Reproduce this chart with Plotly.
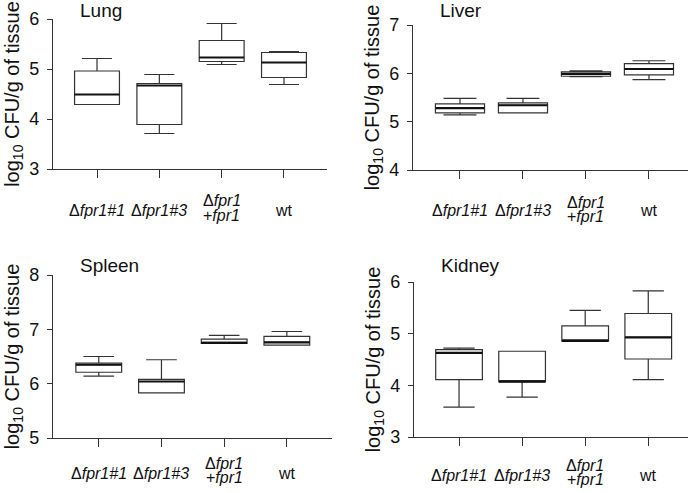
import plotly.graph_objects as go

W, H = 693, 493

# etiquetas de categoria (una lista de lineas por categoria)
categorias = [["Δ<i>fpr1#1</i>"], ["Δ<i>fpr1#3</i>"], ["Δ<i>fpr1</i>", "+<i>fpr1</i>"], ["wt"]]
posiciones = [0, 1, 2, 3]

# valores (log10 CFU/g de tejido)
lung_min = [4.29, 3.71, 5.09, 4.69]
lung_q1 = [4.29, 3.89, 5.15, 4.83]
lung_med = [4.49, 4.67, 5.23, 5.13]
lung_q3 = [4.96, 4.71, 5.57, 5.33]
lung_max = [5.21, 4.89, 5.91, 5.35]

liver_min = [5.14, 5.18, 5.93, 5.87]
liver_q1 = [5.18, 5.18, 5.94, 5.97]
liver_med = [5.28, 5.34, 5.99, 6.09]
liver_q3 = [5.37, 5.39, 6.03, 6.20]
liver_max = [5.48, 5.48, 6.05, 6.26]

spleen_min = [6.14, 5.83, 6.74, 6.71]
spleen_q1 = [6.21, 5.83, 6.74, 6.71]
spleen_med = [6.35, 6.04, 6.75, 6.76]
spleen_q3 = [6.38, 6.08, 6.82, 6.87]
spleen_max = [6.50, 6.44, 6.89, 6.96]

kidney_min = [3.58, 3.77, 4.86, 4.11]
kidney_q1 = [4.11, 4.07, 4.86, 4.51]
kidney_med = [4.63, 4.07, 4.86, 4.93]
kidney_q3 = [4.69, 4.66, 5.15, 5.39]
kidney_max = [4.72, 4.66, 5.45, 5.83]

paneles = [
    # nombre, datos, rango y, caja px (x0, x1, ytop, ybottom), rango x, ancho caja, titulo px, etiquetas px (1 linea, 2 lineas)
    ("Lung", (lung_min, lung_q1, lung_med, lung_q3, lung_max), [3, 6], (53, 327, 19, 169), [-0.706, 3.69], 0.72, (78, 11), (210, (200, 215))),
    ("Liver", (liver_min, liver_q1, liver_med, liver_q3, liver_max), [4, 7], (413, 688, 25, 170), [-0.746, 3.62], 0.78, (438, 10), (210, (202, 217))),
    ("Spleen", (spleen_min, spleen_q1, spleen_med, spleen_q3, spleen_max), [5, 8], (53, 332, 275, 438), [-0.73, 3.72], 0.73, (78, 265), (473, (463, 477))),
    ("Kidney", (kidney_min, kidney_q1, kidney_med, kidney_q3, kidney_max), [3, 6], (414, 688, 282, 437), [-0.714, 3.63], 0.74, (439, 265), (475, (465, 479))),
]

color = "#333333"
negro = "#111111"
fuente = "Liberation Sans, Arial, sans-serif"

fig = go.Figure()
layout = {}
anotaciones = []

for i, (nombre, datos, rango_y, caja, rango_x, ancho, tit, etq) in enumerate(paneles):
    n = "" if i == 0 else str(i + 1)
    mn, q1, med, q3, mx = datos
    fig.add_trace(go.Box(
        x=posiciones, q1=q1, median=med, q3=q3, lowerfence=mn, upperfence=mx,
        width=ancho, whiskerwidth=0.67, fillcolor="white",
        line=dict(color=color, width=1.2), boxpoints=False,
        xaxis="x" + n, yaxis="y" + n, showlegend=False, hoverinfo="skip",
    ))
    # mediana mas gruesa
    fig.add_trace(go.Box(
        x=posiciones, q1=med, median=med, q3=med, lowerfence=med, upperfence=med,
        width=ancho, whiskerwidth=0, fillcolor="rgba(0,0,0,0)",
        line=dict(color=negro, width=2.2), boxpoints=False,
        xaxis="x" + n, yaxis="y" + n, showlegend=False, hoverinfo="skip",
    ))
    x0, x1, yt, yb = caja
    layout["xaxis" + n] = dict(
        domain=[x0 / W, x1 / W], range=rango_x, anchor="y" + n,
        tickmode="array", tickvals=posiciones, showticklabels=False,
        ticks="outside", ticklen=8, tickcolor=color, tickwidth=1.2,
        showline=True, linecolor=color, linewidth=1.2,
        showgrid=False, zeroline=False, automargin=False,
    )
    layout["yaxis" + n] = dict(
        domain=[1 - yb / H, 1 - yt / H], range=rango_y, anchor="x" + n,
        dtick=1, ticks="outside", ticklen=5, tickcolor=color, tickwidth=1.2,
        showline=True, linecolor=color, linewidth=1.2,
        showgrid=False, zeroline=False, automargin=False, ticklabelstandoff=4,
        tickfont=dict(family=fuente, size=18, color=negro),
        title=dict(text="log<sub>10</sub> CFU/g of tissue", standoff=4,
                   font=dict(family=fuente, size=20, color=negro)),
    )
    anotaciones.append(dict(
        text=nombre, x=tit[0] / W, y=1 - tit[1] / H, xref="paper", yref="paper",
        xanchor="left", yanchor="middle", showarrow=False,
        font=dict(family=fuente, size=19, color=negro),
    ))
    # etiquetas de categoria bajo el eje
    y_una, y_dos = etq
    for pos, lineas in zip(posiciones, categorias):
        ys = [y_una] if len(lineas) == 1 else y_dos
        for linea, yp in zip(lineas, ys):
            anotaciones.append(dict(
                text=linea, x=pos, y=1 - yp / H, xref="x" + n, yref="paper",
                xanchor="center", yanchor="middle", showarrow=False,
                font=dict(family=fuente, size=16, color=negro),
            ))

fig.update_layout(
    width=W, height=H, margin=dict(l=0, r=0, t=0, b=0),
    paper_bgcolor="white", plot_bgcolor="white",
    boxmode="overlay", annotations=anotaciones, **layout,
)

# sin el margen por defecto del body, para que la figura empiece en (0, 0)
fig.write_html("out.html", config={"displayModeBar": False},
               post_script="document.body.style.margin='0';")
